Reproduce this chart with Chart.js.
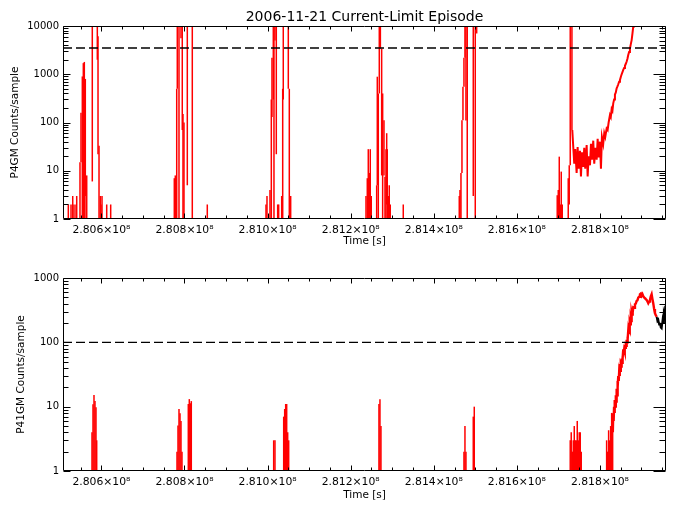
<!DOCTYPE html>
<html>
<head>
<meta charset="utf-8">
<title>2006-11-21 Current-Limit Episode</title>
<script src="https://cdn.jsdelivr.net/npm/chart.js@4.4.0/dist/chart.umd.min.js"></script>
<style>
  body { margin: 0; background: #fff; }
  #wrap { position: relative; width: 677px; height: 511px; background: #fff; }
  canvas { position: absolute; left: 0; }
  #topChart { top: 0; }
  #botChart { top: 250px; }
</style>
</head>
<body>
<div id="wrap">
  <canvas id="topChart" width="677" height="250"></canvas>
  <canvas id="botChart" width="677" height="261"></canvas>
</div>
<script>
// Time axis: seconds = T0 + ks * 1000
const T0 = 280500000;
const X_MIN = 280507600;
const X_MAX = 281959000;
const xTickValues = [280600000, 280800000, 281000000, 281200000, 281400000, 281600000, 281800000];
const OFF = 20000; // off-scale (above plot top)

// P4GM: sample bins drawn as vertical spans (time in ks after T0, low/high counts)
const p4gmSpikeTime = [
  20.4, 26.9, 31.0, 34.1, 38.9, 40.6, 48.5, 50.9, 54.1, 56.5, 58.9, 61.3, 63.0, 64.7,
  78.1, 90.2, 91.9, 94.3, 97.4, 99.1, 101.5, 112.8, 122.4,
  275.5, 277.9, 279.6, 281.3, 282.7, 286.8, 291.6, 294.7, 296.4, 298.8, 306.8, 318.8, 354.9,
  496.2, 498.6, 505.8, 509.0, 510.6, 513.8, 515.4, 517.8, 521.0, 524.3, 526.7, 534.0, 536.4, 537.8, 549.9, 552.3, 555.6,
  736.9, 740.0, 742.4, 744.8, 747.2, 749.6, 762.6, 764.1, 766.5, 768.9, 771.5, 774.6, 777.0, 780.2, 782.6, 785.0, 786.7, 788.1, 790.5, 792.9, 795.3, 826.6,
  961.4, 963.1, 965.5, 967.9, 970.3, 972.7, 975.1, 977.5, 980.6, 995.1, 999.9, 1003.3,
  1197.2, 1199.7, 1202.1, 1204.5, 1206.9, 1209.3, 1223.7, 1226.1, 1228.5, 1232.6
];
const p4gmSpikeLow = [
  0, 0, 0, 0, 0, 0, 0, 15, 0, 0, 0, 3, 0, 0,
  6, 2000, 22, 0, 0, 0, 0, 0, 0,
  0, 0, 0, 0, 500, 0, 5600, 70, 0, 0, 5, 0, 0,
  0, 0, 0, 0, 130, 300, 0, 5000, 22, 0, 0, 0, 0, 300, 500, 0, 0,
  0, 0, 0, 0, 0, 0, 0, 5, 0, 400, 3400, 8, 0, 8, 0, 0, 2, 0, 0, 0, 0, 0,
  0, 0, 0, 9, 112, 550, 2200, 110, 1, 3, 0, 7000,
  0, 0, 0, 0, 0, 0, 0, 2, 13, 70
];
const p4gmSpikeHigh = [
  2, 2, 3, 2, 2, 3, 15, 160, 900, 1700, 1800, 800, 3, 8,
  OFF, OFF, 6100, 33, 3, 2, 3, 2, 2,
  7, 8, 3, 500, OFF, OFF, OFF, OFF, 150, 100, OFF, OFF, 2,
  2, 3, 4, 300, 2200, OFF, OFF, OFF, OFF, 2, 2, 3, 500, OFF, OFF, 500, 3,
  3, 7, 28, 9, 28, 3, 5, 890, 400, OFF, OFF, 3400, 400, 112, 7.5, 28, 60, 28, 3, 5, 2, 2,
  3, 4, 9, 112, 550, 2200, OFF, OFF, OFF, OFF, OFF, OFF,
  3.1, 4, 19.6, 2, 9.6, 2, 7, 13, OFF, OFF
];

// P4GM continuous trace at the end of the episode
const p4gmTraceTime = [
  1233.4, 1235.8, 1238.2, 1240.6, 1243.9, 1246.3, 1248.8, 1251.9, 1254.3, 1256.7,
  1259.8, 1262.2, 1264.6, 1268.0, 1270.4, 1272.8, 1276.0, 1278.4, 1280.8, 1283.9,
  1286.3, 1288.7, 1292.1, 1294.5, 1296.9, 1300.0, 1302.4, 1304.8, 1307.9, 1310.4,
  1312.8, 1316.1, 1318.5, 1320.9, 1324.1, 1326.1, 1328.2, 1330.1, 1332.0, 1334.1,
  1336.1, 1338.2, 1340.2, 1342.2, 1344.1, 1346.2, 1348.2, 1350.2, 1352.2, 1354.2,
  1356.1, 1358.2, 1360.2, 1362.3, 1364.3, 1366.2, 1368.1, 1370.2, 1372.2, 1374.3,
  1376.3, 1378.3, 1380.2, 1381.9
];
const p4gmTraceCounts = [
  70, 31, 14, 28, 9, 31, 11, 26, 7.6, 24,
  12, 30, 11, 34, 7.6, 20, 13, 36, 17, 42,
  14, 30, 17, 46, 19, 40, 11, 50, 36, 60,
  50, 75, 70, 100, 143, 130, 190, 175, 250, 300,
  380, 420, 510, 560, 620, 700, 760, 880, 1000, 1100,
  1230, 1350, 1500, 1650, 1840, 2100, 2500, 2900, 3400, 4200,
  5100, 7000, 9800, 12000
];
const p4gmLimit = 3500;

// P41GM
const p41gmSpikeTime = [
  77.4, 79.8, 82.2, 84.6, 87.0, 88.7,
  282.0, 284.4, 286.8, 289.2, 291.6, 294.0, 309.2, 311.6, 314.0, 316.4,
  514.7, 517.8, 538.8, 541.2, 543.6, 546.0, 548.4, 550.8,
  768.1, 770.5, 772.9,
  972.7, 975.1, 977.5, 995.1, 997.5,
  1228.5, 1230.9, 1233.4, 1235.8, 1238.2, 1240.6, 1243.0, 1245.4, 1247.8, 1250.2, 1252.6, 1255.0,
  1316.1, 1318.5, 1320.9, 1323.4, 1325.8, 1328.2, 1330.6
];
const p41gmSpikeHigh = [
  4, 10.9, 15.2, 12.2, 9.8, 3,
  2, 5.1, 9.2, 7.9, 6, 2, 11, 13.1, 11.3, 12.2,
  3, 3, 7, 9.2, 11, 11, 4, 3,
  11, 13, 5,
  2, 5, 2, 7, 10,
  3, 4, 2, 3, 5, 3, 3, 6, 3, 4, 4, 2,
  3, 2, 4.3, 3, 5, 8, 6
];
const p41gmTraceTime = [
  1331.0, 1332.0, 1333.0, 1334.0, 1335.0, 1336.1, 1337.1, 1338.2, 1339.2, 1340.2,
  1341.2, 1342.1, 1343.1, 1344.1, 1345.2, 1346.2, 1347.2, 1348.2, 1349.2, 1350.2,
  1351.2, 1352.2, 1353.2, 1354.1, 1355.1, 1356.1, 1357.2, 1358.2, 1359.2, 1360.2,
  1361.2, 1362.3, 1363.3, 1364.3, 1365.3, 1366.2, 1367.2, 1368.1, 1369.2, 1370.2,
  1371.2, 1372.2, 1373.2, 1374.3, 1375.3, 1376.3, 1377.3, 1378.3, 1379.3, 1380.2,
  1382.3, 1384.3, 1386.3, 1388.3, 1390.3, 1392.2, 1394.3, 1396.3, 1398.4, 1400.4,
  1402.3, 1404.2, 1406.3, 1408.3, 1410.4, 1412.4, 1414.4, 1416.3, 1418.4, 1420.4,
  1422.4, 1424.4, 1426.4, 1428.3, 1430.4, 1432.4, 1434.4, 1436.5
];
const p41gmTraceCounts = [
  4, 7.9, 6, 10, 8, 12.7, 10, 15, 12, 19,
  15, 25, 20, 30, 25, 34, 30, 46, 36, 44,
  42, 56, 48, 60, 56, 78, 66, 76, 70, 92,
  82, 90, 88, 110, 100, 122, 112, 150, 135, 165,
  155, 205, 190, 230, 215, 290, 270, 310, 290, 350,
  345, 390, 400, 440, 450, 495, 510, 560, 575, 530,
  560, 520, 500, 485, 470, 456, 430, 405, 430, 456,
  520, 560, 470, 405, 330, 283, 265, 250
];
// last part of the P41GM trace (plotted black)
const p41gmTailTime = [1436.5, 1438.4, 1440.4, 1442.5, 1444.4, 1446.4, 1448.5, 1450.9, 1452.3, 1454.0, 1455.7, 1457.2, 1459.6];
const p41gmTailCounts = [250, 215, 225, 190, 200, 170, 165, 225, 200, 285, 260, 360, 380];
const p41gmLimit = 100;

const FONT = "'DejaVu Sans', sans-serif";
Chart.defaults.font.family = FONT;
Chart.defaults.color = '#000';

const toSec = ks => T0 + ks * 1000;
const FLOOR = 0.5; // zero counts sit below the log axis and get clipped

function isDecade(v) {
  const e = Math.round(Math.log10(v));
  return Math.abs(v - Math.pow(10, e)) < 1e-6 * v;
}

// IDL style frame: box with inward ticks on all four sides
const idlFrame = {
  id: 'idlFrame',
  afterDatasetsDraw(chart) {
    const { ctx, chartArea: a, scales: { x, y } } = chart;
    const L = Math.round(a.left) + 0.5, R = Math.round(a.right) - 0.5;
    const T = Math.round(a.top) + 0.5, B = Math.round(a.bottom) - 0.5;
    ctx.save();
    ctx.strokeStyle = '#000';
    ctx.lineWidth = 1;
    ctx.beginPath();
    ctx.rect(L, T, R - L, B - T);
    for (let v = Math.ceil(x.min / 50000) * 50000; v <= x.max; v += 50000) {
      const px = Math.round(x.getPixelForValue(v)) + 0.5;
      const len = v % 200000 === 0 ? 5 : 3;
      ctx.moveTo(px, B); ctx.lineTo(px, B - len);
      ctx.moveTo(px, T); ctx.lineTo(px, T + len);
    }
    for (let d = 1; d <= y.max; d *= 10) {
      for (let k = 1; k <= 9; k++) {
        const v = k * d;
        if (v < y.min || v > y.max) continue;
        const py = Math.round(y.getPixelForValue(v)) + 0.5;
        const major = k === 1;
        ctx.moveTo(L, py); ctx.lineTo(L + (major ? 7 : 5), py);
        ctx.moveTo(R, py); ctx.lineTo(R - (major ? 12 : 6), py);
      }
    }
    ctx.stroke();
    ctx.restore();
  }
};

function spikes(time, low, high) {
  return time.map((t, i) => ({ x: toSec(t), y: [Math.max(low ? low[i] : 0, FLOOR), high[i]] }));
}
function trace(time, counts) {
  return time.map((t, i) => ({ x: toSec(t), y: counts[i] }));
}

function makeChart(id, cfg) {
  return new Chart(document.getElementById(id), {
    type: 'line',
    data: {
      datasets: [
        {
          type: 'line', data: [{ x: X_MIN, y: cfg.limit }, { x: X_MAX, y: cfg.limit }],
          borderColor: '#000', borderWidth: 1.3, borderDash: [9, 4], pointRadius: 0, order: 0, clip: 0
        },
        ...cfg.lines.map(l => ({
          type: 'line', data: l.data, borderColor: l.color, borderWidth: l.width,
          pointRadius: 0, tension: 0, order: 1, clip: 0
        })),
        {
          type: 'bar', data: cfg.bars, backgroundColor: '#ff0000', borderWidth: 0,
          barThickness: 1.5, grouped: false, inflateAmount: 0, order: 2, clip: 0
        }
      ]
    },
    options: {
      responsive: false,
      animation: false,
      events: [],
      layout: { padding: { left: 0, right: 11, top: 0, bottom: 0 } },
      plugins: {
        legend: { display: false },
        tooltip: { enabled: false },
        title: { display: false }
      },
      scales: {
        x: {
          type: 'linear', min: X_MIN, max: X_MAX, offset: false,
          grid: { display: false, drawTicks: false, offset: false },
          border: { display: false },
          afterBuildTicks: s => { s.ticks = xTickValues.map(v => ({ value: v })); },
          ticks: {
            autoSkip: false, maxRotation: 0, padding: 5,
            color: '#000', font: { family: FONT, size: 10.8 },
            callback: v => (v / 1e8).toFixed(3) + '×10⁸'
          },
          title: {
            display: true, text: 'Time [s]', color: '#000',
            font: { family: FONT, size: 10.5 }, padding: { top: 0, bottom: cfg.xTitlePad }
          },
          afterFit: s => { s.height = cfg.xHeight; }
        },
        x2: {
          type: 'linear', position: 'top', min: X_MIN, max: X_MAX, offset: false,
          display: true,
          grid: { display: false, drawTicks: false },
          border: { display: false },
          ticks: { display: false },
          title: {
            display: !!cfg.title, text: cfg.title || '', color: '#000',
            font: { family: FONT, size: 14 }, padding: { top: 8.5, bottom: 0 }
          },
          afterFit: s => { s.height = cfg.topHeight; }
        },
        y: {
          type: 'logarithmic', min: 1, max: cfg.yMax,
          grid: { display: false, drawTicks: false },
          border: { display: false },
          ticks: {
            autoSkip: false, padding: 4, color: '#000', font: { family: FONT, size: 10 },
            callback: v => isDecade(v) ? String(v) : ''
          },
          title: {
            display: true, text: cfg.yTitle, color: '#000',
            font: { family: FONT, size: 10.5 }, padding: { top: cfg.yTitlePad, bottom: 0 }
          },
          afterFit: s => { s.width = 63; }
        }
      }
    },
    plugins: [idlFrame]
  });
}

makeChart('topChart', {
  title: '2006-11-21 Current-Limit Episode',
  topHeight: 26,
  yMax: 10000,
  yTitle: 'P4GM Counts/sample',
  yTitlePad: 9,
  xHeight: 31,
  xTitlePad: 2.2,
  limit: p4gmLimit,
  bars: spikes(p4gmSpikeTime, p4gmSpikeLow, p4gmSpikeHigh),
  lines: [{ data: trace(p4gmTraceTime, p4gmTraceCounts), color: '#ff0000', width: 2 }]
});

makeChart('botChart', {
  title: null,
  topHeight: 28,
  yMax: 1000,
  yTitle: 'P41GM Counts/sample',
  yTitlePad: 15,
  xHeight: 40,
  xTitlePad: 9.2,
  limit: p41gmLimit,
  bars: spikes(p41gmSpikeTime, null, p41gmSpikeHigh),
  lines: [
    { data: trace(p41gmTraceTime, p41gmTraceCounts), color: '#ff0000', width: 2.4 },
    { data: trace(p41gmTailTime, p41gmTailCounts), color: '#000000', width: 2 }
  ]
});
</script>
</body>
</html>
